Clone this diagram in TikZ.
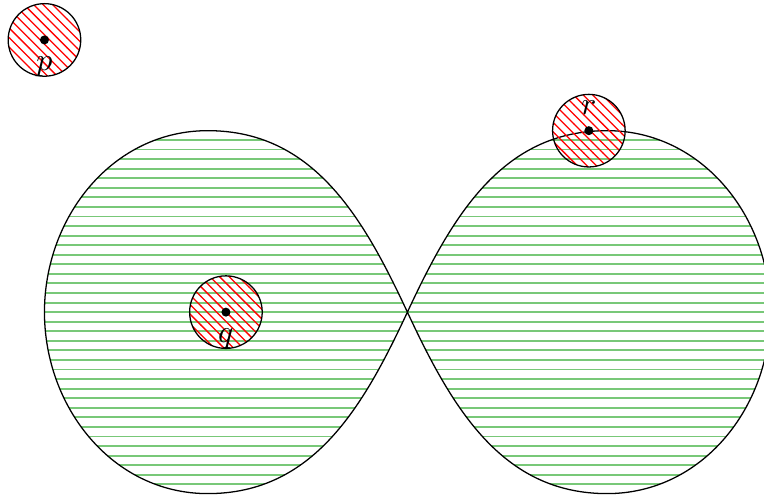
\documentclass[tikz,border=0pt]{standalone}
\usetikzlibrary{patterns}

\definecolor{lobegreen}{RGB}{120,200,120}
\newcommand{\figeight}{(O) to[out=115,in=0] (Ltop) to[out=180,in=90] (Lw)
  to[out=-90,in=180] (Lbot) to[out=0,in=-115] (O)
  to[out=65,in=180] (Rtop) to[out=0,in=90] (Re)
  to[out=-90,in=0] (Rbot) to[out=180,in=-65] (O)}

\begin{document}
\begin{tikzpicture}[dot/.style={circle,fill,inner sep=1pt},
  disc/.style={draw,pattern=north west lines,pattern color=red},
  hline/.style={lobegreen,line width=0.6pt}]
\useasboundingbox (-4.49,-2.04) rectangle (3.93,3.44);
\coordinate (O) at (0,0);
\coordinate (Ltop) at (-2.2,2);
\coordinate (Lw) at (-4,0);
\coordinate (Lbot) at (-2.2,-2);
\coordinate (Rtop) at (2.2,2);
\coordinate (Re) at (4,0);
\coordinate (Rbot) at (2.2,-2);
\coordinate (pc) at (-4,3);
\coordinate (qc) at (-2,0);
\coordinate (rc) at (2,2);
% the two lobes
\begin{scope}
\clip \figeight;
\foreach \k in {-23,...,23}
  \draw[hline] (-4.5,\k*3pt) -- (4.5,\k*3pt);
\end{scope}
\draw \figeight;
% the three discs
\draw[disc] (pc) circle (0.4);
\draw[disc] (qc) circle (0.4);
\draw[disc] (rc) circle (0.4);
\node[dot,label=below:$p$] (p) at (pc) {};
\node[dot,label=below:$q$] (q) at (qc) {};
\node[dot,label=above:$r$] (r) at (rc) {};
\end{tikzpicture}
\end{document}
